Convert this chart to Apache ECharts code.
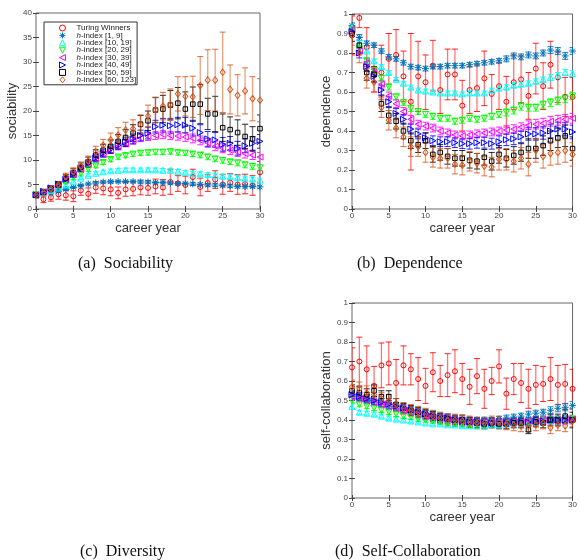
<!DOCTYPE html>
<html>
<head>
    <meta charset="utf-8">
    <title>career year</title>
    <style>
        body{ margin: 0; padding: 0; background: #fff; }
        #container{ width: 580px; height: 560px; }
    </style>
</head>
<body>
    <div id="container"></div>
    <script src="https://cdn.jsdelivr.net/npm/echarts@6/dist/echarts.min.js"></script>
    <script type="text/javascript">
    // career years 0..30
    var years = [0,1,2,3,4,5,6,7,8,9,10,11,12,13,14,15,16,17,18,19,20,21,22,23,24,25,26,27,28,29,30];

    // (a) sociability
    var soc_turing = [2.8,2.0,2.4,3.0,2.8,2.6,3.8,3.1,4.4,4.2,4.0,3.3,4.0,4.1,4.4,4.3,4.6,4.4,5.5,5.2,4.9,6.5,4.5,5.3,6.0,5.0,5.4,5.0,5.1,4.8,7.5];
    var soc_h1 = [2.8,3.0,3.3,3.6,4.0,4.4,4.8,5.1,5.3,5.5,5.6,5.6,5.6,5.6,5.5,5.5,5.4,5.4,5.3,5.2,5.2,5.1,5.0,4.9,4.9,4.8,4.7,4.6,4.6,4.6,4.5];
    var soc_h10 = [2.9,3.3,3.8,4.3,4.9,5.6,6.3,6.9,7.3,7.6,7.8,7.9,8.0,8.0,8.0,8.0,8.0,7.9,7.9,7.7,7.5,7.3,7.2,7.0,6.9,6.7,6.6,6.4,6.3,6.1,5.9];
    var soc_h20 = [2.9,3.4,4.0,4.7,5.5,6.4,7.3,8.1,8.8,9.5,10.1,10.6,10.9,11.2,11.4,11.5,11.6,11.6,11.7,11.5,11.4,11.2,11.0,10.6,10.2,9.9,9.6,9.4,9.0,8.7,8.4];
    var soc_h30 = [2.9,3.5,4.2,5.0,6.0,7.0,8.1,9.2,10.2,11.2,12.0,12.8,13.4,14.0,14.5,14.8,15.0,15.2,15.0,14.9,14.7,14.4,14.0,13.5,12.8,12.4,12.0,11.6,11.3,11.0,10.6];
    var soc_h40 = [2.9,3.6,4.3,5.1,6.1,7.1,8.3,9.3,10.4,11.4,12.2,13.0,13.7,14.3,15.0,15.5,16.8,17.1,17.0,17.2,17.1,16.5,15.6,14.3,14.1,13.2,13.4,12.4,12.9,13.4,13.8];
    var soc_h50 = [2.8,3.4,4.1,4.9,6.3,7.4,8.5,9.6,11.0,12.0,12.8,13.8,14.6,15.5,17.3,18.0,20.2,20.4,21.2,21.6,20.4,21.4,21.4,19.4,19.4,16.6,16.2,15.6,14.8,14.3,16.4];
    var soc_h60 = [2.8,3.4,4.1,4.9,6.6,7.6,8.7,9.8,11.7,13.0,14.1,15.1,16.1,16.4,17.2,19.0,20.2,21.0,21.3,23.5,23.0,22.9,25.2,26.3,26.3,27.9,24.4,23.2,24.1,22.5,22.2];
    var soc_turing_err = [0.6,0.7,0.8,1.0,1.0,1.1,1.0,1.2,1.2,1.3,1.3,1.2,1.4,1.4,1.5,1.5,1.5,1.6,2.5,1.6,1.8,1.6,1.8,1.7,1.8,2.0,1.8,2.0,2.0,2.0,2.2];
    var soc_h1_err = [0.2,0.2,0.2,0.2,0.2,0.2,0.2,0.2,0.2,0.25,0.25,0.25,0.25,0.25,0.25,0.25,0.25,0.25,0.25,0.25,0.25,0.3,0.3,0.3,0.3,0.3,0.3,0.3,0.3,0.3,0.3];
    var soc_h10_err = [0.25,0.25,0.25,0.25,0.3,0.3,0.3,0.3,0.3,0.3,0.35,0.35,0.35,0.35,0.35,0.35,0.35,0.35,0.35,0.35,0.35,0.4,0.4,0.4,0.4,0.4,0.4,0.4,0.4,0.4,0.4];
    var soc_h20_err = [0.3,0.3,0.3,0.3,0.35,0.35,0.4,0.4,0.4,0.4,0.45,0.45,0.45,0.45,0.5,0.5,0.5,0.5,0.5,0.5,0.5,0.5,0.55,0.55,0.55,0.55,0.55,0.6,0.6,0.6,0.6];
    var soc_h30_err = [0.35,0.35,0.4,0.4,0.45,0.5,0.5,0.55,0.6,0.6,0.65,0.7,0.7,0.75,0.75,0.8,0.8,0.85,0.85,0.85,0.9,0.9,0.9,0.9,0.9,0.9,0.9,0.9,0.9,0.9,0.9];
    var soc_h40_err = [0.4,0.4,0.45,0.5,0.55,0.6,0.65,0.7,0.75,0.8,0.85,0.9,0.95,1.0,1.1,1.2,1.3,1.4,1.5,1.5,1.6,1.6,1.6,1.5,1.5,1.4,1.4,1.4,1.4,1.4,1.4];
    var soc_h50_err = [0.4,0.5,0.5,0.6,0.7,0.8,0.9,1.0,1.1,1.2,1.3,1.4,1.6,1.7,1.8,2.0,2.6,2.8,3.0,3.2,3.5,3.5,4.0,3.2,3.6,2.8,2.6,2.6,2.5,2.5,2.8];
    var soc_h60_err = [0.4,0.5,0.5,0.6,0.7,0.8,0.9,1.0,1.1,1.2,1.4,1.5,1.6,1.8,2.0,2.2,2.5,2.8,3.2,3.5,4.0,4.2,5.9,6.2,6.3,8.2,5.0,4.2,4.7,4.5,4.4];

    // (b) dependence
    var dep_turing = [0.89,0.98,0.83,0.72,0.70,0.77,0.79,0.68,0.55,0.68,0.65,0.735,0.61,0.69,0.69,0.53,0.61,0.62,0.67,0.59,0.63,0.55,0.65,0.665,0.58,0.72,0.63,0.74,0.675,0.575,0.575];
    var dep_h1 = [0.94,0.88,0.85,0.84,0.81,0.78,0.77,0.75,0.73,0.725,0.72,0.73,0.73,0.735,0.735,0.735,0.74,0.745,0.75,0.755,0.76,0.77,0.785,0.78,0.79,0.785,0.80,0.815,0.81,0.785,0.81];
    var dep_h10 = [0.93,0.85,0.81,0.76,0.73,0.70,0.665,0.645,0.625,0.61,0.605,0.60,0.595,0.595,0.595,0.59,0.595,0.595,0.595,0.61,0.62,0.625,0.635,0.64,0.645,0.655,0.665,0.675,0.685,0.70,0.695];
    var dep_h20 = [0.92,0.82,0.76,0.71,0.67,0.625,0.575,0.545,0.515,0.50,0.485,0.475,0.465,0.465,0.45,0.455,0.465,0.46,0.465,0.475,0.485,0.495,0.505,0.525,0.52,0.52,0.535,0.545,0.555,0.565,0.58];
    var dep_h30 = [0.92,0.81,0.75,0.70,0.64,0.58,0.54,0.50,0.46,0.435,0.425,0.415,0.40,0.39,0.38,0.375,0.38,0.385,0.39,0.395,0.40,0.405,0.41,0.42,0.43,0.435,0.44,0.45,0.455,0.46,0.465];
    var dep_h40 = [0.91,0.80,0.73,0.68,0.61,0.55,0.49,0.46,0.41,0.385,0.365,0.35,0.345,0.345,0.34,0.335,0.335,0.34,0.34,0.335,0.345,0.355,0.36,0.37,0.385,0.385,0.39,0.40,0.41,0.41,0.395];
    var dep_h50 = [0.90,0.84,0.70,0.69,0.54,0.48,0.45,0.40,0.35,0.33,0.35,0.28,0.29,0.27,0.26,0.26,0.25,0.245,0.265,0.245,0.28,0.26,0.275,0.29,0.31,0.31,0.325,0.35,0.365,0.375,0.31];
    var dep_h60 = [0.89,0.80,0.67,0.65,0.52,0.455,0.415,0.37,0.32,0.32,0.29,0.265,0.26,0.26,0.23,0.225,0.245,0.235,0.22,0.215,0.255,0.255,0.245,0.26,0.23,0.30,0.27,0.285,0.29,0.30,0.28];
    var dep_turing_err = [0.1,0.05,0.1,0.12,0.14,0.13,0.13,0.13,0.35,0.18,0.14,0.13,0.12,0.13,0.13,0.13,0.12,0.12,0.14,0.1,0.12,0.13,0.14,0.12,0.12,0.13,0.12,0.12,0.13,0.1,0.1];
    var dep_h1_err = [0.015,0.015,0.012,0.012,0.012,0.012,0.012,0.012,0.012,0.012,0.012,0.012,0.012,0.012,0.012,0.012,0.012,0.012,0.012,0.012,0.012,0.015,0.015,0.015,0.015,0.015,0.015,0.018,0.018,0.018,0.018];
    var dep_h10_err = [0.012,0.012,0.01,0.01,0.01,0.01,0.01,0.01,0.01,0.01,0.01,0.01,0.01,0.01,0.01,0.01,0.01,0.01,0.01,0.01,0.01,0.012,0.012,0.012,0.012,0.012,0.012,0.015,0.015,0.015,0.015];
    var dep_h20_err = [0.015,0.015,0.015,0.015,0.015,0.015,0.015,0.015,0.015,0.015,0.015,0.015,0.015,0.015,0.015,0.015,0.015,0.015,0.015,0.015,0.015,0.018,0.018,0.018,0.018,0.018,0.018,0.02,0.02,0.02,0.02];
    var dep_h30_err = [0.02,0.02,0.02,0.02,0.02,0.02,0.02,0.02,0.02,0.02,0.02,0.02,0.02,0.02,0.02,0.02,0.02,0.02,0.02,0.02,0.02,0.022,0.022,0.022,0.022,0.025,0.025,0.025,0.025,0.025,0.025];
    var dep_h40_err = [0.025,0.025,0.025,0.025,0.025,0.025,0.025,0.025,0.025,0.025,0.025,0.025,0.025,0.025,0.025,0.025,0.028,0.028,0.028,0.028,0.03,0.03,0.03,0.03,0.032,0.032,0.032,0.035,0.035,0.035,0.035];
    var dep_h50_err = [0.04,0.04,0.04,0.04,0.04,0.04,0.04,0.04,0.04,0.04,0.04,0.04,0.04,0.04,0.04,0.04,0.04,0.04,0.04,0.045,0.045,0.045,0.045,0.045,0.05,0.05,0.05,0.05,0.05,0.055,0.06];
    var dep_h60_err = [0.05,0.05,0.05,0.05,0.05,0.05,0.05,0.05,0.05,0.05,0.05,0.05,0.05,0.05,0.05,0.05,0.05,0.05,0.05,0.05,0.055,0.055,0.055,0.055,0.06,0.06,0.06,0.06,0.06,0.06,0.06];

    // (d) self-collaboration
    var self_turing = [0.67,0.70,0.66,0.575,0.68,0.69,0.59,0.68,0.66,0.61,0.575,0.645,0.60,0.63,0.65,0.61,0.57,0.625,0.56,0.60,0.675,0.535,0.61,0.59,0.56,0.58,0.585,0.61,0.58,0.585,0.56];
    var self_h1 = [0.53,0.52,0.51,0.50,0.49,0.48,0.47,0.46,0.45,0.44,0.435,0.43,0.42,0.41,0.405,0.40,0.40,0.40,0.40,0.40,0.405,0.41,0.415,0.42,0.43,0.435,0.44,0.45,0.46,0.465,0.475];
    var self_h10 = [0.47,0.44,0.435,0.43,0.42,0.41,0.405,0.40,0.395,0.39,0.385,0.38,0.38,0.375,0.375,0.37,0.37,0.37,0.37,0.375,0.375,0.38,0.385,0.385,0.39,0.395,0.40,0.40,0.405,0.41,0.41];
    var self_h20 = [0.50,0.48,0.47,0.46,0.45,0.44,0.43,0.42,0.415,0.405,0.40,0.395,0.39,0.385,0.38,0.38,0.375,0.375,0.375,0.38,0.38,0.38,0.385,0.385,0.39,0.39,0.395,0.40,0.40,0.40,0.405];
    var self_h30 = [0.52,0.51,0.50,0.49,0.48,0.47,0.46,0.45,0.44,0.43,0.42,0.415,0.41,0.405,0.40,0.395,0.39,0.39,0.39,0.39,0.39,0.39,0.39,0.39,0.395,0.395,0.40,0.40,0.40,0.405,0.405];
    var self_h40 = [0.53,0.52,0.51,0.50,0.49,0.48,0.47,0.46,0.45,0.44,0.43,0.42,0.41,0.41,0.40,0.395,0.39,0.39,0.385,0.385,0.385,0.385,0.39,0.39,0.39,0.395,0.395,0.40,0.40,0.40,0.40];
    var self_h50 = [0.55,0.54,0.53,0.55,0.52,0.52,0.48,0.46,0.45,0.44,0.43,0.42,0.41,0.405,0.40,0.40,0.39,0.385,0.38,0.385,0.38,0.38,0.385,0.385,0.35,0.39,0.385,0.40,0.40,0.42,0.40];
    var self_h60 = [0.57,0.56,0.54,0.53,0.51,0.50,0.48,0.46,0.45,0.44,0.43,0.42,0.41,0.40,0.40,0.395,0.39,0.385,0.385,0.39,0.39,0.38,0.375,0.37,0.37,0.375,0.385,0.36,0.375,0.37,0.395];
    var self_turing_err = [0.1,0.125,0.12,0.1,0.115,0.11,0.12,0.1,0.08,0.11,0.09,0.1,0.08,0.11,0.11,0.08,0.09,0.09,0.1,0.07,0.085,0.08,0.08,0.1,0.1,0.1,0.09,0.11,0.1,0.1,0.1];
    var self_h1_err = [0.015,0.015,0.015,0.012,0.012,0.012,0.012,0.012,0.012,0.012,0.012,0.012,0.012,0.012,0.012,0.012,0.012,0.012,0.012,0.012,0.012,0.015,0.015,0.015,0.015,0.015,0.015,0.018,0.018,0.018,0.02];
    var self_h10_err = [0.012,0.01,0.01,0.01,0.01,0.01,0.01,0.01,0.01,0.01,0.01,0.01,0.01,0.01,0.01,0.01,0.01,0.01,0.01,0.01,0.01,0.01,0.01,0.01,0.01,0.01,0.01,0.01,0.01,0.01,0.01];
    var self_h20_err = [0.012,0.012,0.012,0.012,0.012,0.012,0.012,0.012,0.012,0.012,0.012,0.012,0.012,0.012,0.012,0.012,0.012,0.012,0.012,0.012,0.012,0.012,0.012,0.012,0.012,0.012,0.012,0.012,0.012,0.012,0.012];
    var self_h30_err = [0.015,0.015,0.015,0.015,0.015,0.015,0.015,0.015,0.015,0.015,0.015,0.015,0.015,0.015,0.015,0.015,0.015,0.015,0.015,0.015,0.015,0.015,0.015,0.015,0.015,0.015,0.015,0.015,0.015,0.015,0.015];
    var self_h40_err = [0.02,0.02,0.02,0.02,0.02,0.02,0.02,0.02,0.02,0.02,0.02,0.02,0.02,0.02,0.02,0.02,0.02,0.02,0.02,0.02,0.02,0.02,0.02,0.02,0.02,0.02,0.02,0.02,0.02,0.02,0.02];
    var self_h50_err = [0.03,0.03,0.03,0.03,0.03,0.03,0.03,0.025,0.025,0.025,0.025,0.025,0.025,0.025,0.025,0.025,0.025,0.025,0.025,0.025,0.025,0.025,0.025,0.025,0.02,0.025,0.025,0.03,0.03,0.035,0.04];
    var self_h60_err = [0.035,0.035,0.035,0.035,0.03,0.03,0.03,0.03,0.03,0.03,0.03,0.03,0.03,0.03,0.03,0.03,0.03,0.03,0.03,0.03,0.03,0.03,0.03,0.03,0.03,0.03,0.03,0.03,0.03,0.03,0.03];

    var names = ['Turing Winners','h-index [1, 9]','h-index [10, 19]','h-index [20, 29]','h-index [30, 39]','h-index [40, 49]','h-index [50, 59]','h-index [60, 123]'];

    // marker look, same order as names
    var colors = ['#ff0000','#0072bd','#00ffff','#00ff00','#ff00ff','#0000ff','#000000','#d95319'];
    var symbols = [
        'circle',
        'path://M5,0L5,10M0,5L10,5M1.6,1.6L8.4,8.4M8.4,1.6L1.6,8.4',
        'path://M5,0L10,10L0,10Z',
        'path://M0,0L10,0L5,10Z',
        'path://M0,5L10,0L10,10Z',
        'path://M0,0L10,5L0,10Z',
        'rect',
        'path://M5,0L10,6L5,12L0,6Z'
    ];
    var sizes = [5,7,6,6,6,6,4.5,[5,6.5]];

    var panels = [
        { vals: [soc_turing,soc_h1,soc_h10,soc_h20,soc_h30,soc_h40,soc_h50,soc_h60],
          errs: [soc_turing_err,soc_h1_err,soc_h10_err,soc_h20_err,soc_h30_err,soc_h40_err,soc_h50_err,soc_h60_err] },
        { vals: [dep_turing,dep_h1,dep_h10,dep_h20,dep_h30,dep_h40,dep_h50,dep_h60],
          errs: [dep_turing_err,dep_h1_err,dep_h10_err,dep_h20_err,dep_h30_err,dep_h40_err,dep_h50_err,dep_h60_err] },
        { vals: [self_turing,self_h1,self_h10,self_h20,self_h30,self_h40,self_h50,self_h60],
          errs: [self_turing_err,self_h1_err,self_h10_err,self_h20_err,self_h30_err,self_h40_err,self_h50_err,self_h60_err] }
    ];

    var FONT = 'Liberation Sans, Arial, sans-serif';
    var dom = document.getElementById('container');
    var myChart = echarts.init(dom);

    // 误差棒
    function errBar(color) {
        return function (params, api) {
            var x = api.value(0);
            var lo = api.coord([x, api.value(1)]);
            var hi = api.coord([x, api.value(2)]);
            var w = 3;
            var bar = { stroke: color, lineWidth: 1.3, opacity: 0.55 };
            var cap = { stroke: color, lineWidth: 1, opacity: 0.85 };
            return { type: 'group', children: [
                { type: 'line', shape: { x1: lo[0], y1: lo[1], x2: hi[0], y2: hi[1] }, style: bar },
                { type: 'line', shape: { x1: lo[0] - w, y1: lo[1], x2: lo[0] + w, y2: lo[1] }, style: cap },
                { type: 'line', shape: { x1: hi[0] - w, y1: hi[1], x2: hi[0] + w, y2: hi[1] }, style: cap }
            ]};
        };
    }

    var grids = [
        { left: 36, top: 13, width: 224, height: 196 },
        { left: 352, top: 14, width: 224, height: 195 },
        { left: 352, top: 303, width: 224, height: 195 }
    ];
    var yNames = ['sociability', 'dependence', 'self-collaboration'];
    var yMax = [40, 1, 1];
    var yInt = [5, 0.1, 0.1];
    var yGap = [17, 14, 14];

    var xAxes = [], yAxes = [], series = [];
    grids.forEach(function (g, gi) {
        g.show = true; g.borderColor = '#666'; g.borderWidth = 1;
        var tick = { show: true, inside: true, length: 3, lineStyle: { color: '#444' } };
        xAxes.push({ gridIndex: gi, type: 'value', min: 0, max: 30, interval: 5, position: 'bottom',
            name: 'career year', nameLocation: 'middle', nameGap: 13,
            nameTextStyle: { fontFamily: FONT, fontSize: 13, color: '#333' },
            axisLine: { show: false }, axisTick: tick, splitLine: { show: false },
            axisLabel: { fontFamily: FONT, fontSize: 8, color: '#444', margin: 3 } });
        xAxes.push({ gridIndex: gi, type: 'value', min: 0, max: 30, interval: 5, position: 'top',
            axisLine: { show: false }, axisTick: tick, splitLine: { show: false }, axisLabel: { show: false } });
        yAxes.push({ gridIndex: gi, type: 'value', min: 0, max: yMax[gi], interval: yInt[gi], position: 'left',
            name: yNames[gi], nameLocation: 'middle', nameGap: yGap[gi],
            nameTextStyle: { fontFamily: FONT, fontSize: 13, color: '#333' },
            axisLine: { show: false }, axisTick: tick, splitLine: { show: false },
            axisLabel: { fontFamily: FONT, fontSize: 8, color: '#444', margin: 4 } });
        yAxes.push({ gridIndex: gi, type: 'value', min: 0, max: yMax[gi], interval: yInt[gi], position: 'right',
            axisLine: { show: false }, axisTick: tick, splitLine: { show: false }, axisLabel: { show: false } });

        var p = panels[gi];
        names.forEach(function (nm, si) {
            var errData = [], ptData = [];
            for (var i = 0; i < years.length; i++) {
                var v = p.vals[si][i], e = p.errs[si][i];
                errData.push([years[i], v - e, v + e]);
                ptData.push([years[i], v]);
            }
            series.push({ name: nm + ' err', type: 'custom', xAxisIndex: gi * 2, yAxisIndex: gi * 2,
                renderItem: errBar(colors[si]), data: errData, clip: true, silent: true, z: 2 });
            series.push({ name: nm, type: 'scatter', xAxisIndex: gi * 2, yAxisIndex: gi * 2,
                symbol: symbols[si], symbolSize: sizes[si],
                itemStyle: { color: 'rgba(0,0,0,0)', borderColor: colors[si], borderWidth: 1, opacity: 1 },
                data: ptData, z: 3 });
        });
    });

    var legendData = names.map(function (nm, si) {
        return { name: nm, icon: symbols[si],
                 itemStyle: { color: 'rgba(0,0,0,0)', borderColor: colors[si], borderWidth: 1 } };
    });

    var option = {
        animation: false,
        backgroundColor: '#fff',
        grid: grids,
        xAxis: xAxes,
        yAxis: yAxes,
        legend: {
            data: legendData, orient: 'vertical', left: 44, top: 22,
            itemWidth: 6, itemHeight: 6, itemGap: -0.6,
            padding: [2, 1, 1, 15],
            backgroundColor: '#fff', borderColor: '#333', borderWidth: 1,
            textStyle: { fontFamily: FONT, fontSize: 8, color: '#222', lineHeight: 6, padding: [0, 0, 0, 6],
                rich: { i: { fontStyle: 'italic', fontFamily: FONT, fontSize: 8, lineHeight: 6 },
                        n: { fontFamily: FONT, fontSize: 8, lineHeight: 6 } } },
            formatter: function (name) {
                if (name.indexOf('h-index') === 0) {
                    return '{i|h}{n|' + name.substring(1) + '}';
                }
                return name;
            }
        },
        graphic: [
            { type: 'text', left: 78, top: 256, style: { text: '(a)  Sociability', font: '16px "Liberation Serif", serif', fill: '#111' } },
            { type: 'text', left: 357, top: 256, style: { text: '(b)  Dependence', font: '16px "Liberation Serif", serif', fill: '#111' } },
            { type: 'text', left: 80, top: 544, style: { text: '(c)  Diversity', font: '16px "Liberation Serif", serif', fill: '#111' } },
            { type: 'text', left: 335, top: 544, style: { text: '(d)  Self-Collaboration', font: '16px "Liberation Serif", serif', fill: '#111' } }
        ],
        series: series
    };

    if (option && typeof option === "object") {
        myChart.setOption(option, true);
    }
    </script>
</body>
</html>
